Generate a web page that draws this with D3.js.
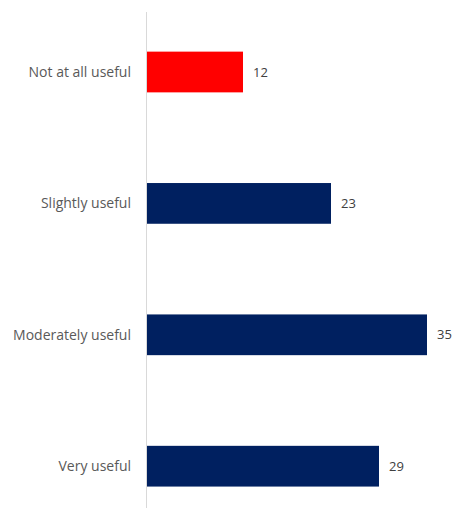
<!DOCTYPE html>
<html>
<head>
<meta charset="utf-8">
<script src="https://cdn.jsdelivr.net/npm/d3@7"></script>
<style>
  body { margin: 0; background: #fff; }
  svg { display: block; }
</style>
</head>
<body>
<script>
(function(){
    const width = 456;
    const height = 508;

    // data
    const categories = ["Not at all useful", "Slightly useful", "Moderately useful", "Very useful"];
    const values = [12, 23, 35, 29];
    const barColors = ["#FF0000", "#002060", "#002060", "#002060"];

    const svg = d3.select("body").append("svg")
        .attr("width", width)
        .attr("height", height);

    const x = d3.scaleLinear().domain([0, 40]).range([147, 467]);
    const y = d3.scaleBand()
        .domain(categories)
        .range([6.3, 531.9])
        .paddingInner(0.69)
        .paddingOuter(0.345);

    // vertical category axis line
    svg.append("line")
        .attr("x1", 146.5).attr("x2", 146.5)
        .attr("y1", 12).attr("y2", height)
        .attr("stroke", "#d9d9d9")
        .attr("stroke-width", 1);

    const rows = categories.map((c, i) => ({ cat: c, val: values[i], color: barColors[i] }));

    svg.selectAll(".bar")
        .data(rows)
        .enter().append("rect")
        .attr("class", "bar")
        .attr("x", x(0))
        .attr("y", d => y(d.cat))
        .attr("width", d => x(d.val) - x(0))
        .attr("height", y.bandwidth())
        .attr("fill", d => d.color);

    // value labels
    svg.selectAll(".val")
        .data(rows)
        .enter().append("text")
        .attr("class", "val")
        .attr("x", d => x(d.val) + 10)
        .attr("y", d => y(d.cat) + y.bandwidth() / 2)
        .attr("dy", "0.35em")
        .attr("font-family", "Open Sans, sans-serif")
        .attr("font-size", 13)
        .attr("fill", "#404040")
        .text(d => d.val);

    // category labels
    svg.selectAll(".cat")
        .data(rows)
        .enter().append("text")
        .attr("class", "cat")
        .attr("x", 131)
        .attr("y", d => y(d.cat) + y.bandwidth() / 2)
        .attr("dy", "0.35em")
        .attr("text-anchor", "end")
        .attr("font-family", "Open Sans, sans-serif")
        .attr("font-size", 14)
        .attr("fill", "#595959")
        .text(d => d.cat);
})();
</script>
</body>
</html>
